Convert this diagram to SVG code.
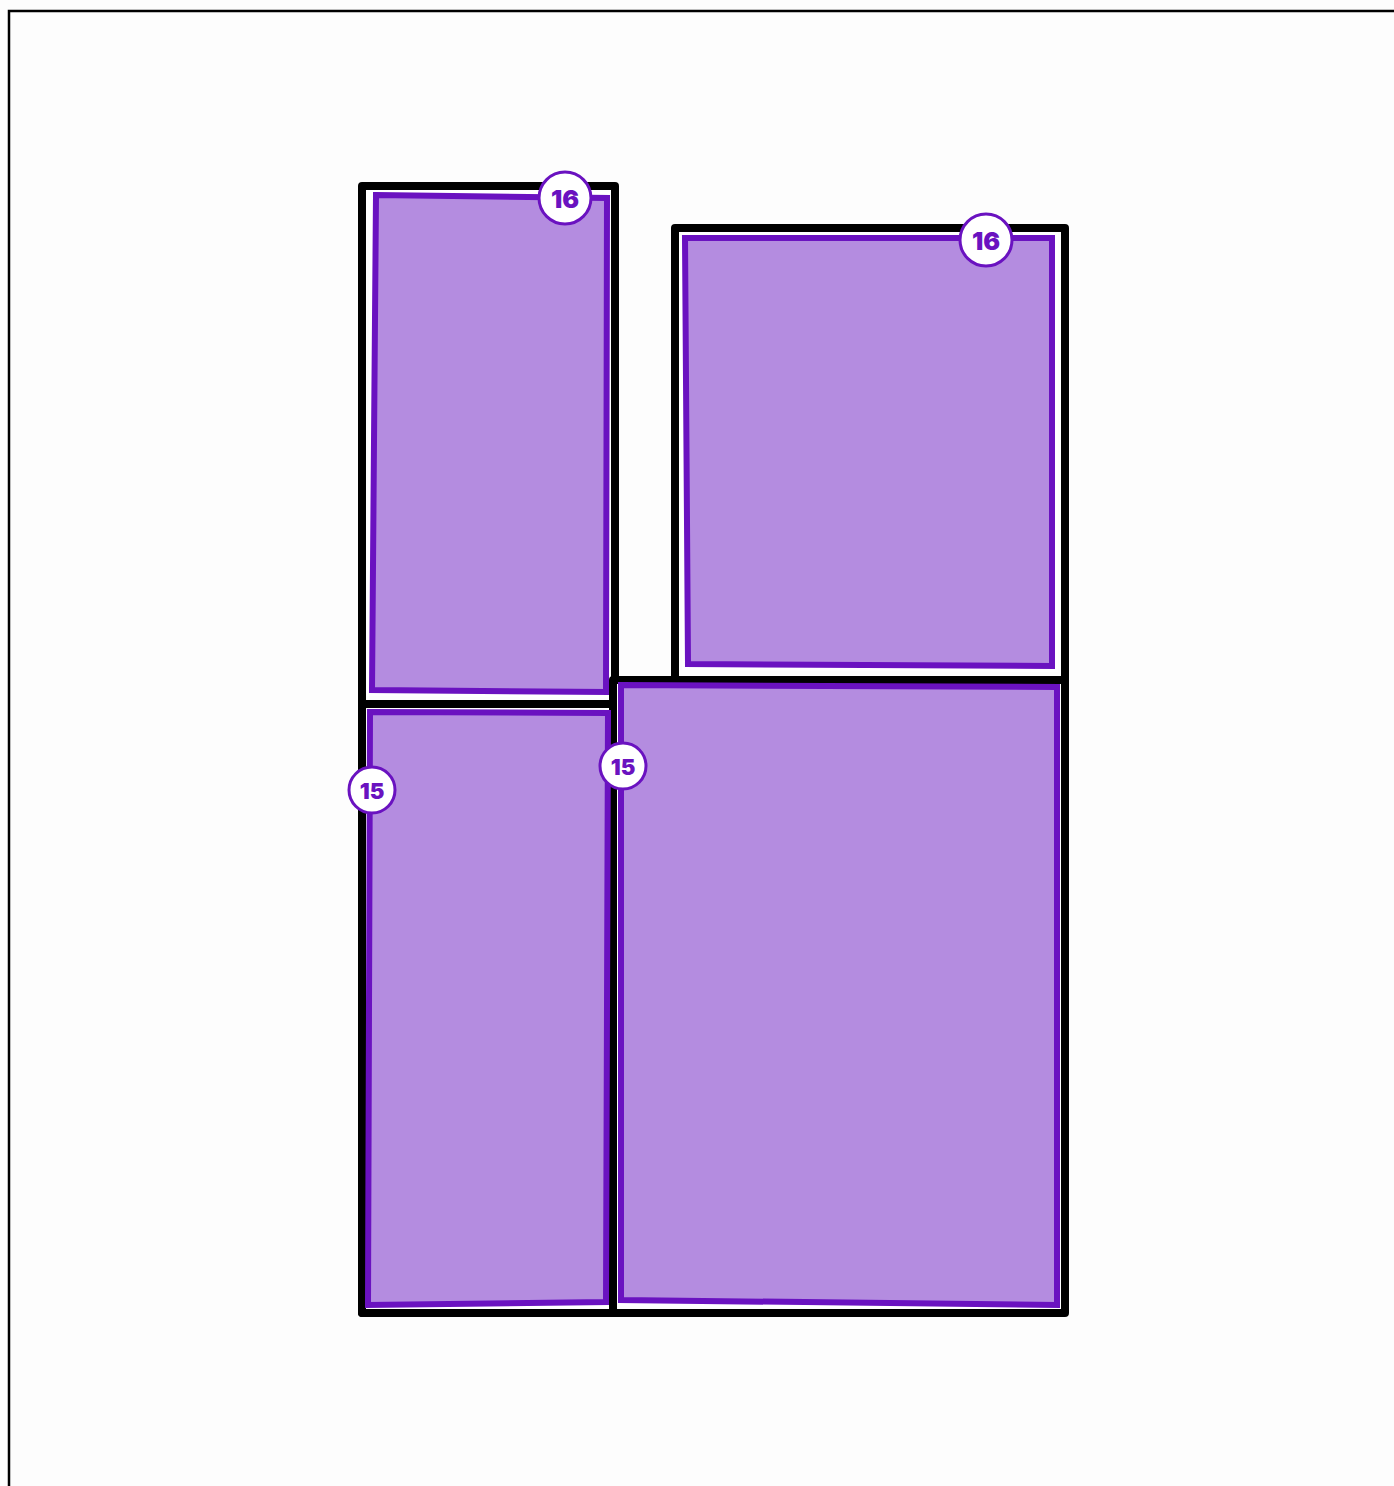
<svg xmlns="http://www.w3.org/2000/svg" width="1394" height="1486" viewBox="0 0 1394 1486">
<style>
.wall{fill:none;stroke:#000;stroke-width:8;stroke-linecap:round;stroke-linejoin:round}
.halo{fill:none;stroke:#fff;stroke-width:12;stroke-linejoin:miter}
.room{fill:#b48ce0;stroke:#6a12c0;stroke-width:6;stroke-linejoin:miter}
.badge circle{fill:#fff;stroke:#6a12c0;stroke-width:3}
.badge text{font-family:Inter,"Open Sans",sans-serif;font-weight:900;font-size:25px;fill:#6a12c0;text-anchor:middle;dominant-baseline:central}
</style>
<rect x="0" y="0" width="1394" height="1486" fill="#fdfdfd"/>
<path d="M9 1486 V11 H1394" fill="none" stroke="#000" stroke-width="2.5"/>
<g id="halos">
<polygon class="halo" points="376,195 607,198 606,692 372,690"/>
<polygon class="halo" points="685,238 1052,238 1052,666 688,664"/>
<polygon class="halo" points="370,712 608,713 606,1302 368,1305"/>
<polygon class="halo" points="621,685 1057,687 1057,1305 621,1300"/>
</g>
<g id="walls">
<path class="wall" d="M362 1313 V186 H615 V680"/>
<path class="wall" d="M675 680 V228 H1065 V1313 H362"/>
<path class="wall" d="M615 680 H1065"/>
<path class="wall" d="M613 680 V1313"/>
<path class="wall" d="M362 704 H613"/>
</g>
<g id="room-top-left">
<polygon class="room" points="376,195 607,198 606,692 372,690"/>
</g>
<g id="room-top-right">
<polygon class="room" points="685,238 1052,238 1052,666 688,664"/>
</g>
<g id="room-bottom-left">
<polygon class="room" points="370,712 608,713 606,1302 368,1305"/>
</g>
<g id="room-bottom-right">
<polygon class="room" points="621,685 1057,687 1057,1305 621,1300"/>
</g>
<g id="badge-1" class="badge"><circle cx="565" cy="198" r="26"/><text x="565" y="199">16</text></g>
<g id="badge-2" class="badge"><circle cx="986" cy="240" r="26"/><text x="986" y="241">16</text></g>
<g id="badge-3" class="badge"><circle cx="372" cy="790" r="23"/><text x="372" y="791" style="font-size:22px">15</text></g>
<g id="badge-4" class="badge"><circle cx="623" cy="766" r="23"/><text x="623" y="767" style="font-size:22px">15</text></g>
</svg>
